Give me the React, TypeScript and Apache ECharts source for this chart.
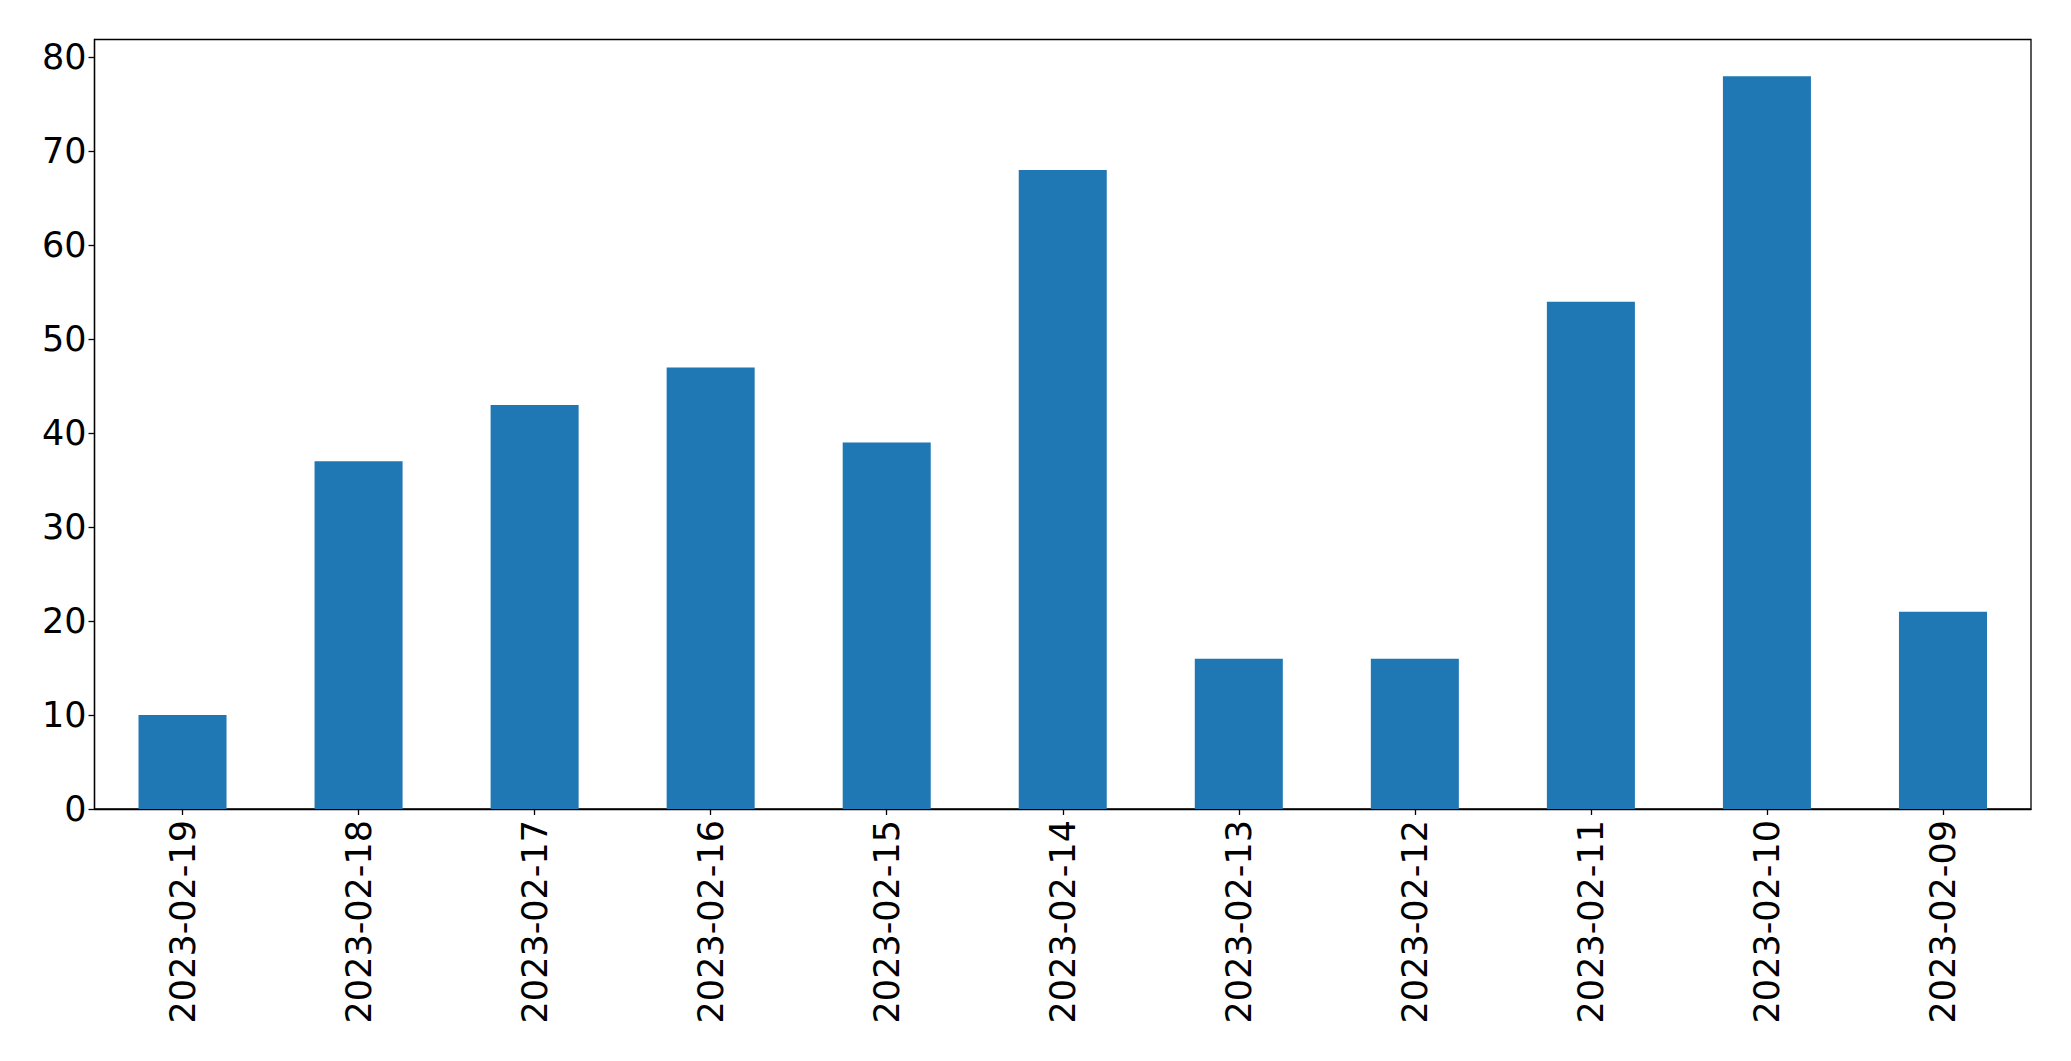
import React, { useEffect, useRef } from "react";
import * as echarts from "echarts";

const categories = [
  "2023-02-19", "2023-02-18", "2023-02-17", "2023-02-16", "2023-02-15", "2023-02-14",
  "2023-02-13", "2023-02-12", "2023-02-11", "2023-02-10", "2023-02-09",
];
const values = [10, 37, 43, 47, 39, 68, 16, 16, 54, 78, 21];
const yTicks = [0, 10, 20, 30, 40, 50, 60, 70, 80];
const yMax = 81.9;

export default function App() {
  const ref = useRef<HTMLDivElement>(null);
  useEffect(() => {
    document.body.style.margin = "0";
    const chart = echarts.init(ref.current!, null, { renderer: "svg" });
    const font = "DejaVu Sans";
    chart.setOption({
      animation: false,
      backgroundColor: "#ffffff",
      grid: {
        left: 94.5,
        right: 40,
        top: 39.5,
        bottom: 252,
        show: true,
        borderColor: "#000000",
        borderWidth: 1.3,
        backgroundColor: "transparent",
      },
      xAxis: {
        type: "category",
        data: categories,
        boundaryGap: true,
        axisLine: { show: true, lineStyle: { color: "#000", width: 1.3 } },
        axisTick: { show: true, alignWithLabel: true, length: 6, lineStyle: { color: "#000", width: 1.3 } },
        axisLabel: {
          rotate: 90,
          margin: 11,
          color: "#000",
          fontFamily: font,
          fontSize: 35,
          interval: 0,
        },
        splitLine: { show: false },
      },
      yAxis: {
        type: "value",
        min: 0,
        max: yMax,
        interval: 10,
        axisLine: { show: true, lineStyle: { color: "#000", width: 1.3 } },
        axisTick: { show: true, length: 6, customValues: yTicks, lineStyle: { color: "#000", width: 1.3 } },
        axisLabel: {
          margin: 8,
          color: "#000",
          fontFamily: font,
          fontSize: 35,
          customValues: yTicks,
        },
        splitLine: { show: false },
      },
      series: [
        {
          type: "bar",
          data: values,
          barWidth: "50%",
          itemStyle: { color: "#1f77b4" },
        },
      ],
    });
    return () => chart.dispose();
  }, []);
  return (
    <div
      ref={ref}
      style={{ position: "absolute", left: 0, top: 0, width: 2071, height: 1061 }}
    />
  );
}
